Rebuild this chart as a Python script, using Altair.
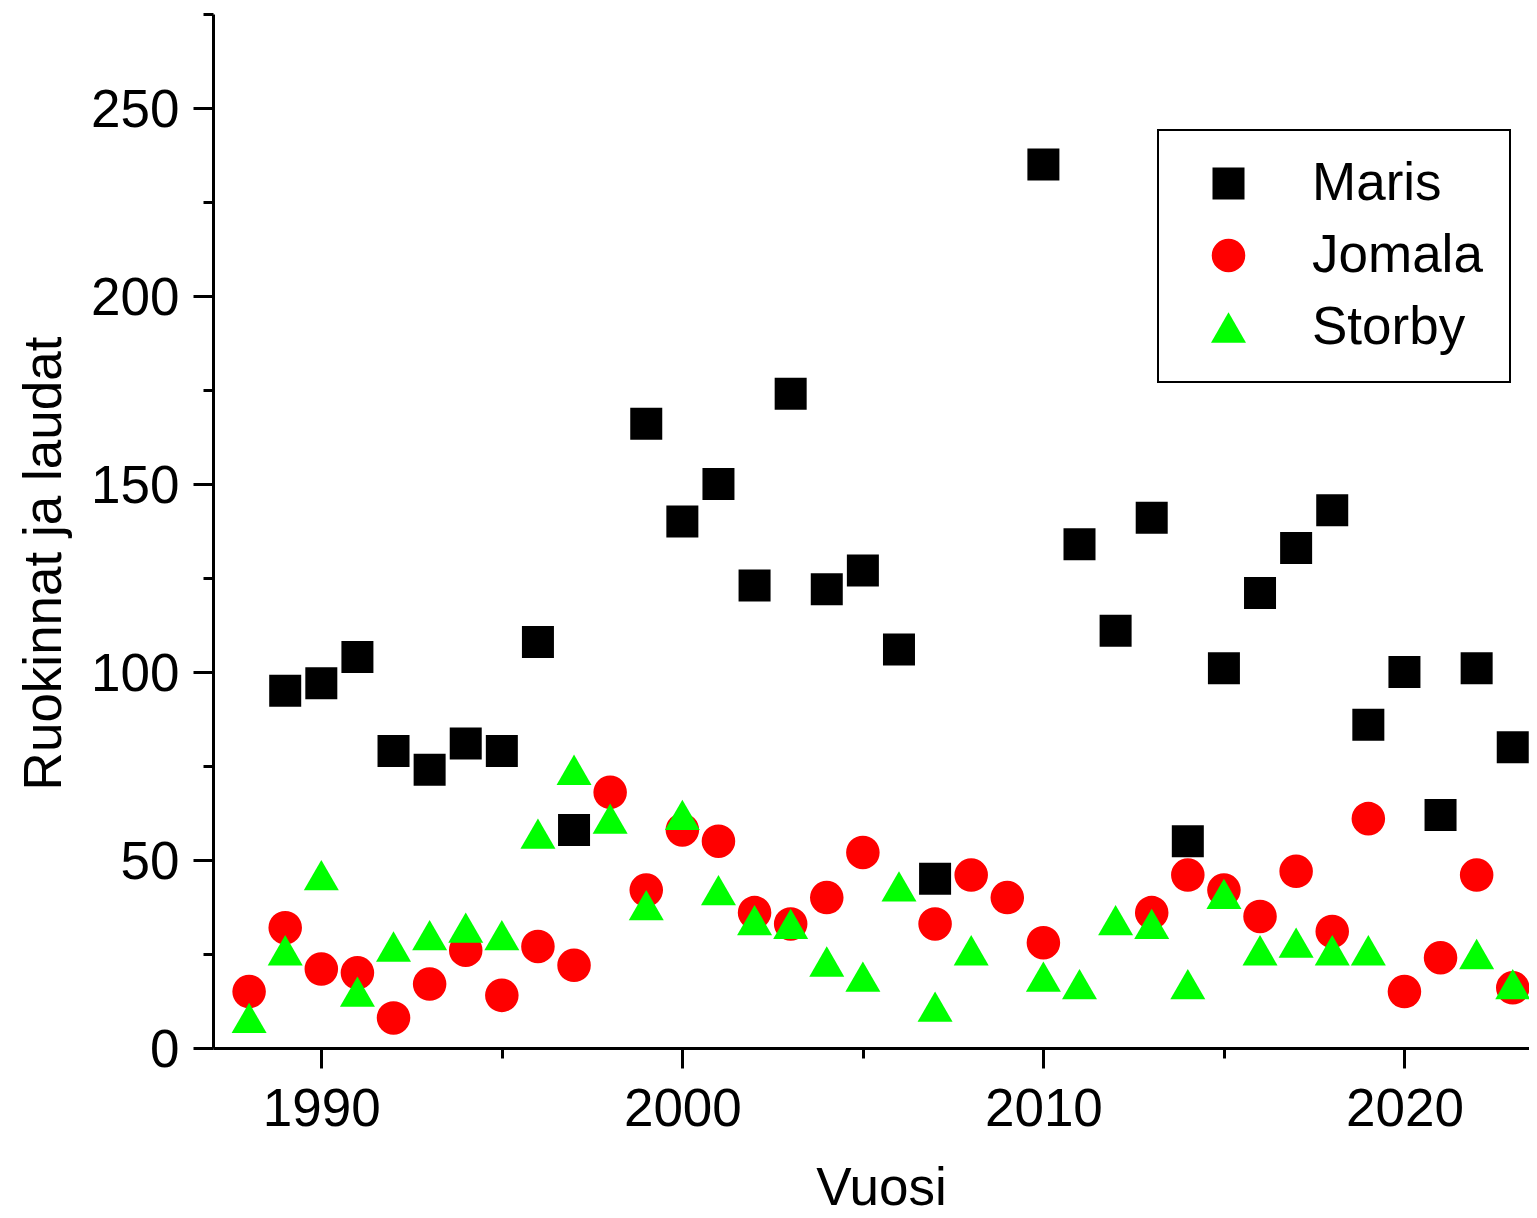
import altair as alt
import pandas as pd

# ---- data ----
series_names = ["Maris", "Jomala", "Storby"]
series_colors = ["#000000", "#ff0000", "#00ff00"]
series_shapes = ["square", "circle", "triangle-up"]
series_sizes = [1024, 1225, 1680]

maris_years = [1989, 1990, 1991, 1992, 1993, 1994, 1995, 1996, 1997,
               1999, 2000, 2001, 2002, 2003, 2004, 2005, 2006, 2007,
               2010, 2011, 2012, 2013, 2014, 2015, 2016, 2017, 2018,
               2019, 2020, 2021, 2022, 2023]
maris = [95, 97, 104, 79, 74, 81, 79, 108, 58,
         166, 140, 150, 123, 174, 122, 127, 106, 45,
         235, 134, 111, 141, 55, 101, 121, 133, 143,
         86, 100, 62, 101, 80]

jomala_years = [1988, 1989, 1990, 1991, 1992, 1993, 1994, 1995, 1996,
                1997, 1998, 1999, 2000, 2001, 2002, 2003, 2004, 2005,
                2007, 2008, 2009, 2010,
                2013, 2014, 2015, 2016, 2017, 2018, 2019, 2020, 2021,
                2022, 2023]
jomala = [15, 32, 21, 20, 8, 17, 26, 14, 27,
          22, 68, 42, 58, 55, 36, 33, 40, 52,
          33, 46, 40, 28,
          36, 46, 42, 35, 47, 31, 61, 15, 24,
          46, 16]

storby_years = [1988, 1989, 1990, 1991, 1992, 1993, 1994, 1995, 1996,
                1997, 1998, 1999, 2000, 2001, 2002, 2003, 2004, 2005,
                2006, 2007, 2008,
                2010, 2011, 2012, 2013, 2014, 2015, 2016, 2017, 2018,
                2019, 2022, 2023]
storby = [8, 26, 46, 15, 27, 30, 32, 30, 57,
          74, 61, 38, 62, 42, 34, 33, 23, 19,
          43, 11, 26,
          19, 17, 34, 33, 17, 41, 26, 28, 26,
          26, 25, 17]

x_major = [1990, 2000, 2010, 2020]
x_minor = [1995, 2005, 2015]
y_major = [0, 50, 100, 150, 200, 250]
y_minor = [25, 75, 125, 175, 225, 275]

rows = []
for name, yrs, vals in [("Maris", maris_years, maris),
                        ("Jomala", jomala_years, jomala),
                        ("Storby", storby_years, storby)]:
    for yr, v in zip(yrs, vals):
        rows.append({"Vuosi": yr, "Arvo": v, "Sarja": name})
df = pd.DataFrame(rows)

FONT = "Liberation Sans"
FS = 53

xscale = alt.Scale(domain=[1987, 2023.45], nice=False, zero=False)
yscale = alt.Scale(domain=[0, 275], nice=False, zero=False)

legend = alt.Legend(
    title=None, orient="none", legendX=945, legendY=116,
    labelFont=FONT, labelFontSize=FS, labelColor="black", labelLimit=600,
    symbolSize=1300, symbolStrokeWidth=0, symbolOpacity=1,
    padding=27, rowPadding=18, symbolOffset=17, labelOffset=57,
    strokeColor="black",
)

main = alt.Chart(df).mark_point(filled=True, opacity=1, strokeWidth=0).encode(
    x=alt.X("Vuosi:Q", scale=xscale, axis=alt.Axis(
        values=x_major, format="d", orient="bottom",
        tickSize=20, tickWidth=3, tickColor="black",
        domainWidth=3, domainColor="black", grid=False,
        labelFont=FONT, labelFontSize=FS, labelColor="black",
        labelPadding=57, labelBaseline="alphabetic", labelFlush=False,
        title="Vuosi", titleFont=FONT, titleFontSize=FS, titleFontWeight="normal",
        titleColor="black", titleX=668, titleY=156, titleBaseline="alphabetic",
        titleAlign="center")),
    y=alt.Y("Arvo:Q", scale=yscale, axis=alt.Axis(
        values=y_major, orient="left",
        tickSize=20, tickWidth=3, tickColor="black",
        domainWidth=3, domainColor="black", grid=False,
        labelFont=FONT, labelFontSize=FS, labelColor="black",
        labelPadding=14, labelBaseline="alphabetic", labelOffset=18,
        title="Ruokinnat ja laudat", titleFont=FONT, titleFontSize=FS,
        titleFontWeight="normal", titleColor="black", titleAngle=270,
        titleX=-153, titleY=549, titleBaseline="alphabetic", titleAlign="center")),
    color=alt.Color("Sarja:N", scale=alt.Scale(domain=series_names, range=series_colors),
                    legend=legend),
    shape=alt.Shape("Sarja:N", scale=alt.Scale(domain=series_names, range=series_shapes),
                    legend=legend),
    size=alt.Size("Sarja:N", scale=alt.Scale(domain=series_names, range=series_sizes),
                  legend=None),
)

minor = alt.Chart(df).mark_point(opacity=0).encode(
    x=alt.X("Vuosi:Q", scale=xscale, axis=alt.Axis(
        values=x_minor, orient="bottom", tickSize=10, tickWidth=3, tickColor="black",
        labels=False, domain=False, grid=False, title=None)),
    y=alt.Y("Arvo:Q", scale=yscale, axis=alt.Axis(
        values=y_minor, orient="left", tickSize=10, tickWidth=3, tickColor="black",
        labels=False, domain=False, grid=False, title=None)),
)

chart = alt.layer(minor, main).resolve_axis(x="independent", y="independent").properties(
    width=1316, height=1034,
    autosize=alt.AutoSizeParams(type="none"),
    padding={"left": 205, "top": 6, "right": 0, "bottom": 168},
    background="white",
).configure_view(stroke=None).configure_legend(strokeWidth=2)

chart.save("out.html", embed_options={"renderer": "svg", "actions": False})
